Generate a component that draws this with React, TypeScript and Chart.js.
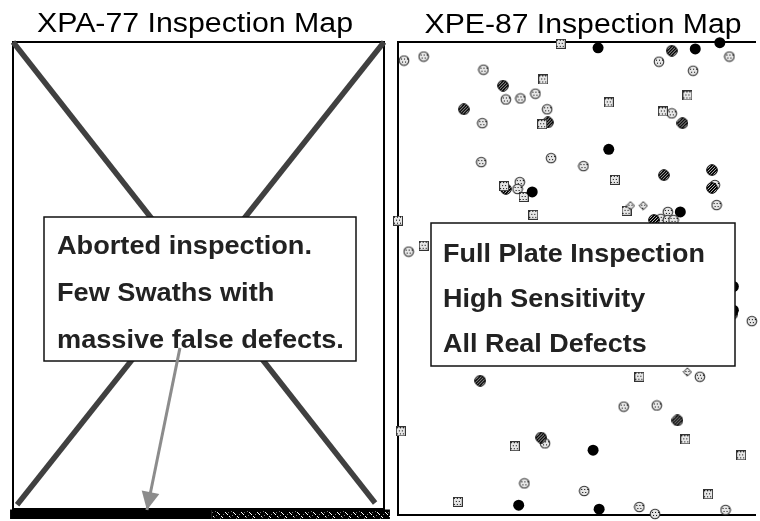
import React, { useEffect, useRef } from "react";
import { Chart, registerables } from "chart.js";

Chart.register(...registerables);

const FONT = '"Liberation Sans", Arial, Helvetica, sans-serif';

// ---------- Left panel: XPA-77 (aborted inspection) ----------
const leftTitle = "XPA-77 Inspection Map";
const leftNote = ["Aborted inspection.", "Few Swaths with", "massive false defects."];
// plate cross-out (x 0..100, y 0..100 of plate)
const crossA = [{ x: 0, y: 100 }, { x: 97.6, y: 1.3 }];
const crossB = [{ x: 100, y: 100 }, { x: 1.1, y: 0.9 }];
// pointer from note to the defect swaths
const arrowLine = [{ x: 45.0, y: 34.5 }, { x: 36.1, y: -0.2 }];
// swaths full of false defects along the bottom edge
const swathSolid = [{ x: -0.8, y: -1.1 }, { x: 53.6, y: -1.1 }];
const swathNoisy = [{ x: 53.6, y: -1.1 }, { x: 101.6, y: -1.1 }];

// ---------- Right panel: XPE-87 (full plate) ----------
const rightTitle = "XPE-87 Inspection Map";
const rightNote = ["Full Plate Inspection", "High Sensitivity", "All Real Defects"];

const blackDefects = [
  [56.2, 128.4], [83.5, 128.1], [90.4, 129.8], [59.2, 100.5], [37.7, 88.8], [79.3, 83.3],
  [94.2, 62.8], [94.2, 56.3], [54.8, 17.8], [33.9, 2.7], [56.5, 1.6],
];
const hatchedDefects = [
  [76.9, 127.6], [29.5, 118.0], [18.5, 111.5], [42.1, 107.9], [79.9, 107.7], [88.2, 94.8],
  [74.7, 93.4], [30.3, 89.6], [88.2, 89.9], [71.9, 81.1], [93.9, 55.2], [23.1, 36.9],
  [78.5, 26.0], [40.2, 21.3],
];
const dottedDefects = [
  [93.1, 126.0], [1.7, 124.9], [7.2, 126.0], [73.3, 124.6], [82.9, 122.1], [24.0, 122.4],
  [30.3, 114.2], [34.4, 114.5], [38.6, 115.8], [41.9, 111.5], [76.9, 110.4], [23.7, 107.7],
  [23.4, 97.0], [43.0, 98.1], [52.1, 95.9], [34.2, 91.5], [33.6, 89.6], [89.0, 90.7],
  [89.5, 85.2], [75.8, 83.3], [73.8, 81.4], [75.8, 81.1], [77.4, 81.1], [3.0, 72.4],
  [99.4, 53.3], [84.8, 38.0], [63.4, 29.8], [72.7, 30.1], [41.3, 19.7], [35.5, 8.7],
  [52.3, 6.6], [67.8, 2.2], [72.2, 0.3], [92.0, 1.4],
];
const squareDefects = [
  [45.7, 129.5], [40.8, 119.7], [81.3, 115.3], [59.2, 113.4], [74.4, 110.9], [40.5, 107.4],
  [60.9, 92.1], [29.8, 90.4], [35.3, 87.4], [38.0, 82.5], [64.2, 83.6], [0.0, 80.9],
  [7.2, 74.0], [67.8, 38.0], [0.8, 23.0], [32.8, 18.9], [80.7, 20.8], [96.4, 16.4],
  [87.1, 5.7], [16.8, 3.6],
];
const diamondDefects = [[65.3, 85.0], [68.9, 85.0], [81.3, 39.3]];

const toPts = (a: number[][]) => a.map(([x, y]) => ({ x, y }));

function mk(w: number, h: number) {
  const c = document.createElement("canvas");
  c.width = w;
  c.height = h;
  return c;
}

function halftone(ctx: CanvasRenderingContext2D, w: number, h: number) {
  ctx.fillStyle = "#e6e6e6";
  ctx.fillRect(0, 0, w, h);
  ctx.fillStyle = "#000";
  for (let y = 0; y < h; y++) {
    for (let x = 0; x < w; x++) {
      const shift = Math.floor(y / 3) % 2 === 0 ? 0 : 1;
      if ((x + shift) % 3 === 1 && y % 3 === 1) ctx.fillRect(x, y, 1, 1);
    }
  }
}

function makeDotted() {
  const c = mk(12, 12);
  const ctx = c.getContext("2d")!;
  ctx.save();
  ctx.beginPath();
  ctx.arc(6, 6, 4.8, 0, Math.PI * 2);
  ctx.clip();
  halftone(ctx, 12, 12);
  ctx.restore();
  ctx.beginPath();
  ctx.arc(6, 6, 4.8, 0, Math.PI * 2);
  ctx.strokeStyle = "#333";
  ctx.lineWidth = 1.1;
  ctx.stroke();
  return c;
}

function makeHatched() {
  const c = mk(12, 12);
  const ctx = c.getContext("2d")!;
  ctx.save();
  ctx.beginPath();
  ctx.arc(6, 6, 5.3, 0, Math.PI * 2);
  ctx.clip();
  ctx.fillStyle = "#000";
  ctx.fillRect(0, 0, 12, 12);
  ctx.strokeStyle = "#bdbdbd";
  ctx.lineWidth = 1;
  for (let k = -12; k < 24; k += 3) {
    ctx.beginPath();
    ctx.moveTo(k, 12);
    ctx.lineTo(k + 12, 0);
    ctx.stroke();
  }
  ctx.restore();
  ctx.beginPath();
  ctx.arc(6, 6, 5.3, 0, Math.PI * 2);
  ctx.strokeStyle = "#000";
  ctx.lineWidth = 1;
  ctx.stroke();
  return c;
}

function makeSquare() {
  const c = mk(10, 10);
  const ctx = c.getContext("2d")!;
  halftone(ctx, 10, 10);
  ctx.strokeStyle = "#333";
  ctx.lineWidth = 1;
  ctx.strokeRect(0.5, 0.5, 9, 9);
  return c;
}

function makeDiamond() {
  const c = mk(10, 10);
  const ctx = c.getContext("2d")!;
  const path = () => {
    ctx.beginPath();
    ctx.moveTo(5, 0.8);
    ctx.lineTo(9.2, 5);
    ctx.lineTo(5, 9.2);
    ctx.lineTo(0.8, 5);
    ctx.closePath();
  };
  ctx.save();
  path();
  ctx.clip();
  halftone(ctx, 10, 10);
  ctx.restore();
  path();
  ctx.strokeStyle = "#333";
  ctx.lineWidth = 1;
  ctx.stroke();
  return c;
}

function makeNoise(): CanvasPattern {
  const c = mk(16, 10);
  const ctx = c.getContext("2d")!;
  ctx.fillStyle = "#000";
  ctx.fillRect(0, 0, 16, 10);
  ctx.fillStyle = "#ffffff";
  const specks = [[1, 2], [2, 3], [3, 4], [9, 2], [10, 3], [11, 4], [5, 6], [13, 6], [14, 7]];
  specks.forEach(([x, y]) => ctx.fillRect(x, y, 1, 1));
  ctx.fillStyle = "#777";
  [[7, 1], [12, 8], [4, 2], [15, 4], [8, 5], [6, 7]].forEach(([x, y]) => ctx.fillRect(x, y, 1, 1));
  return ctx.createPattern(c, "repeat")!;
}

function stretchedText(
  ctx: CanvasRenderingContext2D,
  lines: string[],
  x: number,
  baselines: number[],
  font: string,
  targetFirstWidth: number,
  color: string,
  align: CanvasTextAlign
) {
  ctx.save();
  ctx.font = font;
  const s = targetFirstWidth / ctx.measureText(lines[0]).width;
  ctx.fillStyle = color;
  ctx.textAlign = align;
  ctx.textBaseline = "alphabetic";
  lines.forEach((ln, i) => {
    ctx.save();
    ctx.translate(x, baselines[i]);
    ctx.scale(s, 1);
    ctx.fillText(ln, 0, 0);
    ctx.restore();
  });
  ctx.restore();
}

function noteBox(ctx: CanvasRenderingContext2D, x0: number, y0: number, x1: number, y1: number) {
  ctx.save();
  ctx.fillStyle = "#ffffff";
  ctx.fillRect(x0, y0, x1 - x0, y1 - y0);
  ctx.strokeStyle = "#111";
  ctx.lineWidth = 1.5;
  ctx.strokeRect(x0, y0, x1 - x0, y1 - y0);
  ctx.restore();
}

const hidden = (min: number, max: number) => ({ type: "linear" as const, display: false, min, max });

export default function App() {
  const leftRef = useRef<HTMLCanvasElement>(null);
  const rightRef = useRef<HTMLCanvasElement>(null);

  useEffect(() => {
    const noise = makeNoise();

    const leftPlugin = {
      id: "leftDecor",
      beforeDatasetsDraw(chart: any) {
        const { ctx, chartArea: a } = chart;
        ctx.save();
        ctx.strokeStyle = "#000";
        ctx.lineWidth = 2;
        ctx.strokeRect(a.left, a.top, a.right - a.left, a.bottom - a.top);
        ctx.restore();
        stretchedText(ctx, [leftTitle], 195, [32], `27px ${FONT}`, 316, "#000", "center");
      },
      afterDatasetDraw(chart: any, args: any) {
        const ctx = chart.ctx;
        if (args.index === 1) {
          noteBox(ctx, 44, 217, 356, 361);
          stretchedText(ctx, leftNote, 57, [254, 301, 348], `bold 26px ${FONT}`, 255, "#222", "left");
        }
        if (args.index === 0) {
          const pts = chart.getDatasetMeta(0).data;
          const p0 = pts[0], p1 = pts[1];
          const dx = p1.x - p0.x, dy = p1.y - p0.y;
          const L = Math.hypot(dx, dy);
          const ux = dx / L, uy = dy / L;
          const len = 18, hw = 9;
          const bx = p1.x - ux * len, by = p1.y - uy * len;
          ctx.save();
          ctx.fillStyle = "#8c8c8c";
          ctx.beginPath();
          ctx.moveTo(p1.x, p1.y);
          ctx.lineTo(bx - uy * hw, by + ux * hw);
          ctx.lineTo(bx + uy * hw, by - ux * hw);
          ctx.closePath();
          ctx.fill();
          ctx.restore();
        }
      },
    };

    const left = new Chart(leftRef.current!, {
      type: "scatter",
      data: {
        datasets: [
          { data: arrowLine, showLine: true, borderColor: "#8c8c8c", borderWidth: 3, pointRadius: 0, clip: false } as any,
          { data: crossA, showLine: true, borderColor: "#404040", borderWidth: 5.5, pointRadius: 0, clip: 6 } as any,
          { data: crossB, showLine: true, borderColor: "#404040", borderWidth: 5.5, pointRadius: 0, clip: 6 } as any,
          { data: swathSolid, showLine: true, borderColor: "#000", borderWidth: 9.5, pointRadius: 0, clip: false } as any,
          { data: swathNoisy, showLine: true, borderColor: noise, borderWidth: 9.5, pointRadius: 0, clip: false } as any,
        ],
      },
      options: {
        responsive: false,
        animation: false,
        events: [],
        layout: { padding: { left: 13, top: 42, right: 8, bottom: 12 } },
        plugins: { legend: { display: false }, tooltip: { enabled: false }, title: { display: false } },
        scales: { x: hidden(0, 100), y: hidden(0, 100) },
      },
      plugins: [leftPlugin],
    });

    const rightPlugin = {
      id: "rightDecor",
      beforeDatasetsDraw(chart: any) {
        const { ctx, chartArea: a } = chart;
        ctx.save();
        ctx.strokeStyle = "#000";
        ctx.lineWidth = 2;
        ctx.beginPath();
        ctx.moveTo(a.right + 2, a.top);
        ctx.lineTo(a.left, a.top);
        ctx.lineTo(a.left, a.bottom);
        ctx.lineTo(a.right + 2, a.bottom);
        ctx.stroke();
        ctx.restore();
        stretchedText(ctx, [rightTitle], 191, [33], `27px ${FONT}`, 317, "#000", "center");
      },
      afterDatasetsDraw(chart: any) {
        const ctx = chart.ctx;
        noteBox(ctx, 39, 223, 343, 366);
        stretchedText(ctx, rightNote, 51, [262, 307, 352], `bold 26px ${FONT}`, 262, "#222", "left");
      },
    };

    const imgDs = (data: number[][], img: HTMLCanvasElement) =>
      ({ data: toPts(data), pointStyle: img, pointRadius: 5, clip: false } as any);

    const right = new Chart(rightRef.current!, {
      type: "scatter",
      data: {
        datasets: [
          { data: toPts(blackDefects), pointStyle: "circle", pointRadius: 5.5, backgroundColor: "#000", borderWidth: 0, clip: false } as any,
          imgDs(diamondDefects, makeDiamond()),
          imgDs(squareDefects, makeSquare()),
          imgDs(hatchedDefects, makeHatched()),
          imgDs(dottedDefects, makeDotted()),
        ],
      },
      options: {
        responsive: false,
        animation: false,
        events: [],
        layout: { padding: { left: 5, top: 42, right: 0, bottom: 3 } },
        plugins: { legend: { display: false }, tooltip: { enabled: false }, title: { display: false } },
        scales: { x: hidden(0, 100), y: hidden(0, 130) },
      },
      plugins: [rightPlugin],
    });

    return () => {
      left.destroy();
      right.destroy();
    };
  }, []);

  return (
    <div style={{ position: "absolute", left: 0, top: 0, width: 760, height: 521, overflow: "hidden", background: "#fff" }}>
      <canvas ref={leftRef} width={392} height={521} style={{ position: "absolute", left: 0, top: 0 }} />
      <canvas ref={rightRef} width={368} height={521} style={{ position: "absolute", left: 392, top: 0 }} />
    </div>
  );
}
